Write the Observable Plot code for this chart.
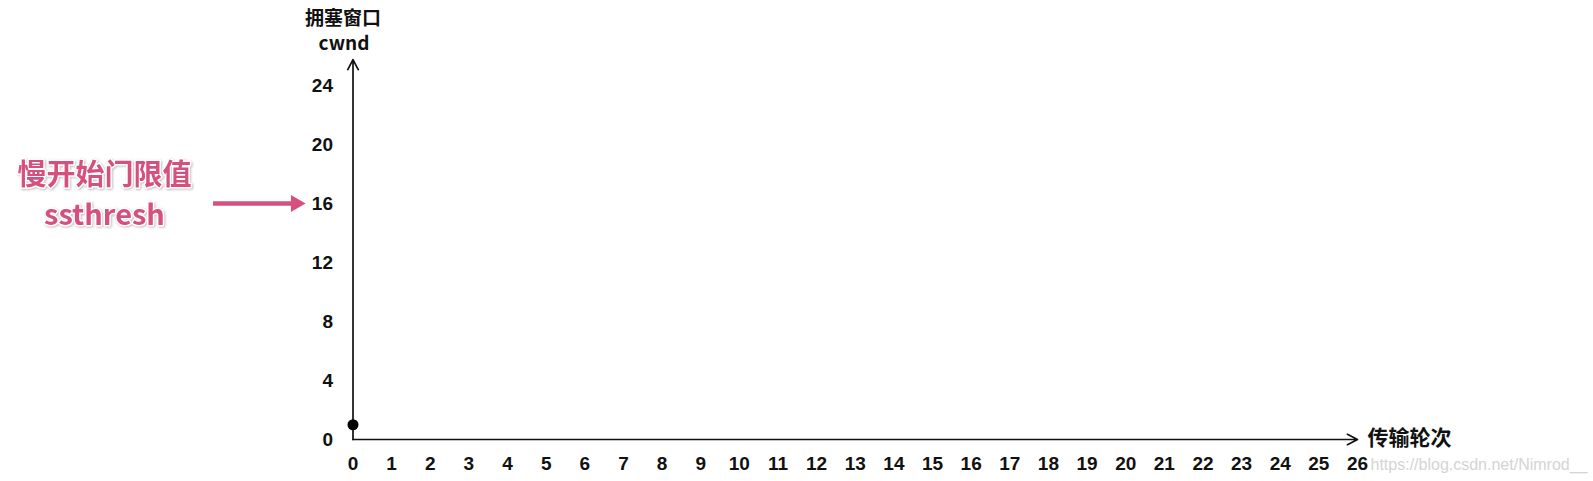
<!DOCTYPE html>
<html>
<head>
<meta charset="utf-8">
<script src="https://cdn.jsdelivr.net/npm/d3@7"></script>
<script src="https://cdn.jsdelivr.net/npm/@observablehq/plot@0.6"></script>
<style>
  html, body { margin: 0; padding: 0; background: #fff; }
  .pink text { filter: drop-shadow(1px 1px 1px rgba(0,0,0,0.25)); }
</style>
</head>
<body>
<div id="chart"></div>
<script>
// ---- data ----
const xTicks = [0,1,2,3,4,5,6,7,8,9,10,11,12,13,14,15,16,17,18,19,20,21,22,23,24,25,26];
const yTicks = [0,4,8,12,16,20,24];
const rounds = [0];          // 传输轮次
const cwnd = [1];            // 拥塞窗口
const ssthresh = [16];       // 慢开始门限值
const yTitle = ["拥塞窗口", "cwnd"];
const xTitle = ["传输轮次"];
const ssLabel = ["慢开始门限值", "ssthresh"];
const watermark = ["https://blog.csdn.net/Nimrod__"];

const points = rounds.map((r, i) => ({round: r, cwnd: cwnd[i]}));
const xMin = xTicks[0], xMax = xTicks[xTicks.length - 1];
const yMin = yTicks[0], yMax = yTicks[yTicks.length - 1];

const tickFont = "'Liberation Sans Narrow', 'Arial Narrow', 'Liberation Sans', Arial, sans-serif";
const cjkFont = "'Noto Sans CJK SC', 'Noto Sans', sans-serif";
const pink = "#d6507e";

const chart = Plot.plot({
  width: 1593,
  height: 481,
  marginLeft: 352.5,
  marginRight: 236,
  marginTop: 85,
  marginBottom: 42,
  x: {domain: [xMin, xMax], label: null},
  y: {domain: [yMin, yMax], label: null},
  style: {fontFamily: tickFont, fontWeight: "bold", fontSize: "19px", color: "#111", background: "#fff"},
  marks: [
    // axis tick labels
    Plot.axisX(xTicks, {label: null, tickSize: 0, tickPadding: 17, fontSize: 19, fontWeight: "bold", fontFamily: tickFont, fill: "#111"}),
    Plot.axisY(yTicks, {label: null, tickSize: 0, tickPadding: 20, fontSize: 19, fontWeight: "bold", fontFamily: tickFont, fill: "#111"}),
    // axis lines with open arrow heads
    Plot.arrow([0], {x1: xMin, y1: yMin, x2: xMin, y2: yMax + 1.76, stroke: "#111", strokeWidth: 1.7, headLength: 10, headAngle: 55}),
    Plot.arrow([0], {x1: xMin, y1: yMin, x2: xMax, y2: yMin, stroke: "#111", strokeWidth: 1.7, headLength: 10, headAngle: 55}),
    // data point
    Plot.dot(points, {x: "round", y: "cwnd", r: 5.5, fill: "#000", stroke: "none"}),
    // y title
    Plot.text([yTitle[0]], {x: xMin, y: yMax, text: d => d, dx: -10, dy: -67, fontFamily: cjkFont, fontWeight: "bold", fontSize: 19, fill: "#111"}),
    Plot.text([yTitle[1]], {x: xMin, y: yMax, text: d => d, dx: -9, dy: -42, fontFamily: cjkFont, fontWeight: "bold", fontSize: 19, fill: "#111"}),
    // x title
    Plot.text(xTitle, {x: xMax, y: yMin, text: d => d, dx: 10, dy: -1, textAnchor: "start", fontFamily: cjkFont, fontWeight: "bold", fontSize: 21, fill: "#111"}),
    // watermark
    Plot.text(watermark, {x: xMax, y: yMin, text: d => d, dx: 13, dy: 25, textAnchor: "start", fontFamily: "'Liberation Sans', Arial, sans-serif", fontWeight: "normal", fontSize: 16, fill: "#d4d4d4"}),
    // ssthresh annotation arrow
    Plot.ruleY(ssthresh, {x1: -3.61, x2: -1.55, stroke: pink, strokeWidth: 4.5}),
    Plot.dot(ssthresh, {x: -1.48, y: d => d, symbol: "triangle", rotate: 90, r: 6.3, fill: pink, stroke: "none"}),
    // ssthresh labels
    Plot.text(ssthresh, {x: xMin, y: d => d, text: () => ssLabel[0], dx: -248.5, dy: -28, fontFamily: cjkFont, fontWeight: "bold", fontSize: 29, fill: pink, stroke: "#fff", strokeWidth: 3, className: "pink"}),
    Plot.text(ssthresh, {x: xMin, y: d => d, text: () => ssLabel[1], dx: -248.5, dy: 12, fontFamily: cjkFont, fontWeight: "bold", fontSize: 29, fill: pink, stroke: "#fff", strokeWidth: 3, className: "pink"})
  ]
});
document.getElementById("chart").appendChild(chart);
</script>
</body>
</html>
